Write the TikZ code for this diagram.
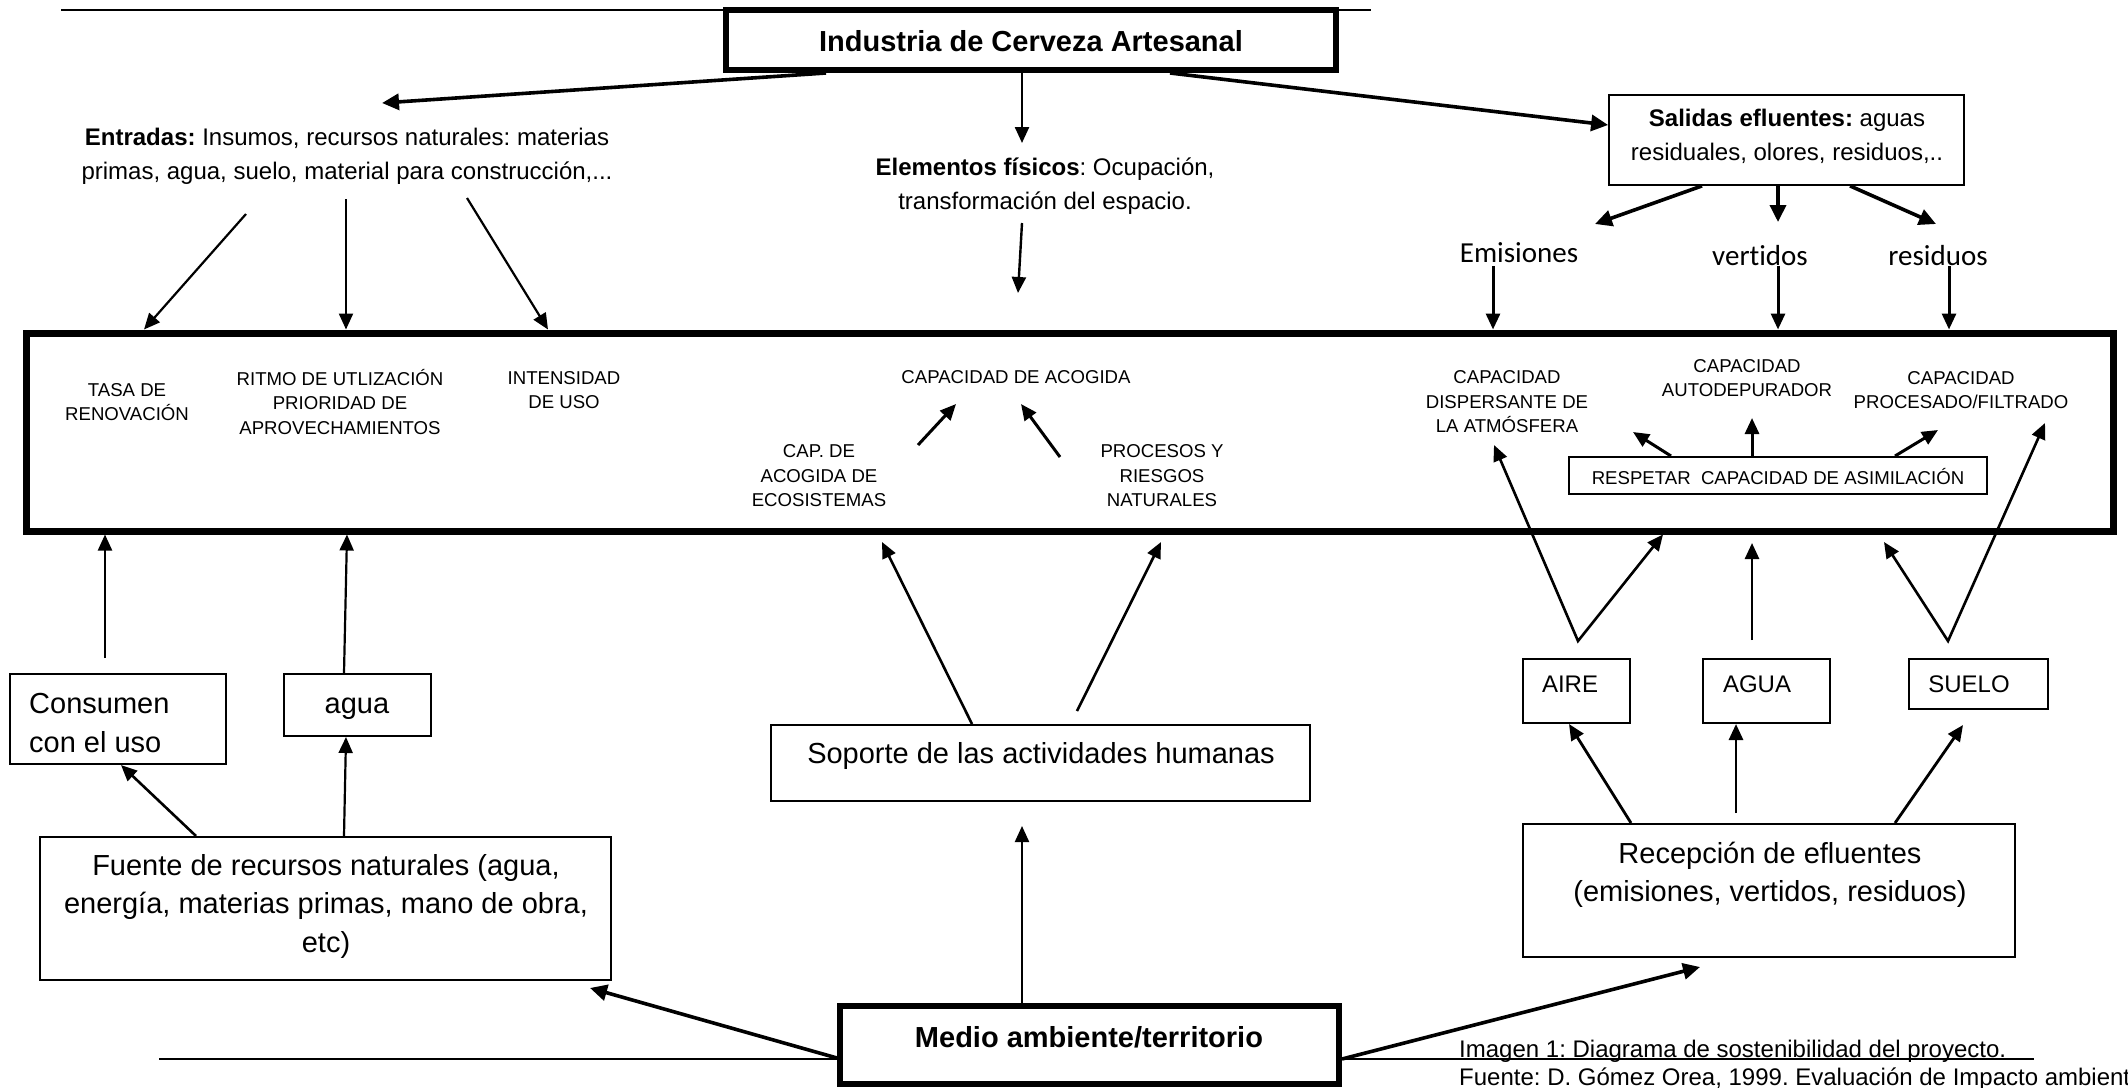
\documentclass[tikz,border=0pt]{standalone}
\usepackage{fontspec}
\setmainfont{Liberation Sans}
\newfontfamily\calib[Ligatures=NoCommon]{Carlito}
\usetikzlibrary{arrows.meta}
\frenchspacing

\begin{document}
\begin{tikzpicture}[x=1pt,y=-1pt,
  every node/.style={inner sep=0pt},
  fbig/.style={font=\fontsize{29}{38.5}\selectfont},
  fmid/.style={font=\fontsize{24}{34}\selectfont},
  fcap/.style={font=\fontsize{24}{28}\selectfont},
  fsml/.style={font=\fontsize{18.6}{24.5}\selectfont},
  fcal/.style={font=\calib\fontsize{29}{35}\selectfont},
  bx/.style={draw, line width=2.2pt, fill=white},
  heavybox/.style={draw, line width=6pt, fill=white},
  arr/.style={-{Triangle[length=16pt,width=14pt]}, line width=2.4pt},
  arrb/.style={-{Triangle[length=17pt,width=16pt]}, line width=3.6pt},
  dbl/.style={{Triangle[length=16pt,width=14pt]}-{Triangle[length=16pt,width=14pt]}, line width=2.6pt},
]
\useasboundingbox (0,0) rectangle (2128,1087);
\fill[white] (0,0) rectangle (2128,1087);

% ---------- rules ----------
\coordinate (topL) at (61,10);
\coordinate (topR) at (1371,10);
\draw[line width=2.5pt] (topL) -- (topR);

% caption (the lower rule runs across it)
\node[fcap, anchor=base west] (cap1) at (1459,1057) {Imagen 1: Diagrama de sostenibilidad del proyecto.};
\node[fcap, anchor=base west] (cap2) at (1459,1085) {Fuente: D. Gómez Orea, 1999. Evaluación de Impacto ambiental};
\coordinate (botL) at (159,1059);
\coordinate (botR) at (2034,1059);
\draw[line width=2.5pt] (botL) -- (botR);

% ---------- boxes ----------
\node[heavybox, minimum width=610pt, minimum height=60pt] (ind) at (1031,40) {};
\node[bx, minimum width=354.6pt, minimum height=89.6pt] (sal) at (1786.5,140) {};
\node[draw, line width=7pt, minimum width=2086.5pt, minimum height=198pt] (big) at (1069.75,432) {};
\node[bx, minimum width=417.8pt, minimum height=36.8pt] (resp) at (1778,475.5) {};
\node[bx, minimum width=215.8pt, minimum height=89.8pt] (con) at (118,719) {};
\node[bx, minimum width=146.8pt, minimum height=61.8pt] (agu) at (357.5,705) {};
\node[bx, minimum width=570.8pt, minimum height=142.8pt] (fue) at (325.5,908.5) {};
\node[bx, minimum width=538.8pt, minimum height=75.8pt] (sop) at (1040.5,763) {};
\node[bx, minimum width=491.8pt, minimum height=132.8pt] (rec) at (1769,890.5) {};
\node[bx, minimum width=106.8pt, minimum height=63.8pt] (aire) at (1576.5,691) {};
\node[bx, minimum width=126.8pt, minimum height=63.8pt] (agua) at (1766.5,691) {};
\node[bx, minimum width=138.8pt, minimum height=49.8pt] (suelo) at (1978.5,684) {};
\node[heavybox, minimum width=499pt, minimum height=78pt] (med) at (1089.5,1045) {};

% ---------- texts ----------
\node[fbig] (indT) at (1031,41) {\textbf{Industria de Cerveza Artesanal}};
\node[fmid, align=center] (entT) at (347,156) {\textbf{Entradas:} Insumos, recursos naturales: materias\\primas, agua, suelo, material para construcción,...};
\node[fmid, align=center] (eleT) at (1045,186) {\textbf{Elementos físicos}: Ocupación,\\transformación del espacio.};
\node[fmid, align=center] (salT) at (1787,136) {\textbf{Salidas efluentes:} aguas\\residuales, olores, residuos,..};
\node[fcal, anchor=base] (emiT) at (1519,262) {Emisiones};
\node[fcal, anchor=base] (verT) at (1760,265) {vertidos};
\node[fcal, anchor=base] (resT) at (1938,265) {residuos};

\node[fsml, align=center] (tasaT) at (127,402) {TASA DE\\RENOVACIÓN};
\node[fsml, align=center] (ritT) at (340,402) {RITMO DE UTLIZACIÓN\\PRIORIDAD DE\\APROVECHAMIENTOS};
\node[fsml, align=center] (intT) at (564,390) {INTENSIDAD\\DE USO};
\node[fsml] (acoT) at (1016,377) {CAPACIDAD DE ACOGIDA};
\node[fsml, align=center] (ecoT) at (819,476) {CAP. DE\\ACOGIDA DE\\ECOSISTEMAS};
\node[fsml, align=center] (proT) at (1162,476) {PROCESOS Y\\RIESGOS\\NATURALES};
\node[fsml, align=center] (dispT) at (1507,402) {CAPACIDAD\\DISPERSANTE DE\\LA ATMÓSFERA};
\node[fsml, align=center] (autT) at (1747,378) {CAPACIDAD\\AUTODEPURADOR};
\node[fsml, align=center] (filT) at (1961,390) {CAPACIDAD\\PROCESADO/FILTRADO};
\node[fsml] (respT) at (1778,477) {RESPETAR\ \ CAPACIDAD DE ASIMILACIÓN};

\node[fbig, align=left, anchor=west] (conT) at (29,723) {Consumen\\con el uso};
\node[fbig] (aguT) at (357,709) {agua};
\node[fbig, align=center] (fueT) at (326,906) {Fuente de recursos naturales (agua,\\energía, materias primas, mano de obra,\\etc)};
\node[fbig] (sopT) at (1041,756) {Soporte de las actividades humanas};
\node[fbig, align=center] (recT) at (1770,875) {Recepción de efluentes\\(emisiones, vertidos, residuos)};
\node[fmid] (aireT) at (1570,684) {AIRE};
\node[fmid] (aguaT) at (1757,684) {AGUA};
\node[fmid] (sueloT) at (1969,684) {SUELO};
\node[fbig] (medT) at (1089,1037) {\textbf{Medio ambiente/territorio}};

% ---------- free connector ends ----------
\coordinate (entTip) at (382,103);
\coordinate (eleTip) at (1022,143);
\coordinate (e1) at (246,214);
\coordinate (e2) at (346,199);
\coordinate (e3) at (467,198);
\coordinate (el1) at (1022,223);
\coordinate (el2) at (1018,293);
\coordinate (emiTip) at (1595,224);
\coordinate (verTip) at (1778,222);
\coordinate (resTip) at (1936,224);
\coordinate (emiS) at (1493,266);
\coordinate (verS) at (1778,266);
\coordinate (resS) at (1949,266);
\coordinate (ecoS) at (918,445);
\coordinate (ecoE) at (956,404);
\coordinate (proS) at (1060,457);
\coordinate (proE) at (1021,404);
\coordinate (rA) at (1633,432);
\coordinate (rB) at (1752,418);
\coordinate (rC) at (1938,430);
\coordinate (aireL) at (1494,445);
\coordinate (aireV) at (1578,641);
\coordinate (aguaS) at (1752,640);
\coordinate (aguaE) at (1752,543);
\coordinate (sueloL) at (1884,542);
\coordinate (sueloV) at (1948,641);
\coordinate (sueloR) at (2045,423);
\coordinate (recB) at (1736,813);
\coordinate (recC) at (1963,725);
\coordinate (conS) at (105,658);
\coordinate (sopL) at (882,542);
\coordinate (sopRS) at (1077,711);
\coordinate (sopR) at (1161,542);
\coordinate (medTip) at (1022,826);
\coordinate (fueTip) at (590,988);
\coordinate (recTip) at (1700,967);

% ---------- connectors ----------
\draw[arrb] (ind.south -| 826,0) -- (entTip);
\draw[arr] (ind.south -| 1022,0) -- (eleTip);
\draw[arrb] (ind.south -| 1170,0) -- (sal.west |- 0,125);

\draw[arr, line width=2.2pt] (e1) -- (big.north -| 144,0);
\draw[arr, line width=2.2pt] (e2) -- (big.north -| 346,0);
\draw[arr, line width=2.2pt] (e3) -- (big.north -| 548,0);
\draw[arr] (el1) -- (el2);

\draw[arrb] (sal.south -| 1702,0) -- (emiTip);
\draw[arrb] (sal.south -| 1778,0) -- (verTip);
\draw[arrb] (sal.south -| 1850,0) -- (resTip);
\draw[arr, line width=3pt] (emiS) -- (big.north -| 1493,0);
\draw[arr, line width=3pt] (verS) -- (big.north -| 1778,0);
\draw[arr, line width=3pt] (resS) -- (big.north -| 1949,0);

\draw[arr, line width=3pt] (ecoS) -- (ecoE);
\draw[arr, line width=3pt] (proS) -- (proE);
\draw[arr, line width=3pt] (resp.north -| 1671,0) -- (rA);
\draw[arr, line width=3pt] (resp.north -| 1752,0) -- (rB);
\draw[arr, line width=3pt] (resp.north -| 1895,0) -- (rC);

\draw[dbl] (aireL) -- (aireV) -- (big.south -| 1663,0);
\draw[arr, line width=2.6pt] (aguaS) -- (aguaE);
\draw[dbl] (sueloL) -- (sueloV) -- (sueloR);

\draw[arr, line width=2.8pt] (rec.north -| 1631,0) -- (aire.south -| 1569,0);
\draw[arr, line width=2.8pt] (recB) -- (agua.south -| 1736,0);
\draw[arr, line width=2.8pt] (rec.north -| 1895,0) -- (recC);

\draw[arr, line width=2.2pt] (conS) -- (big.south -| 105,0);
\draw[arr, line width=2.2pt] (agu.north -| 344,0) -- (big.south -| 347,0);
\draw[arr, line width=2.6pt] (fue.north -| 196,0) -- (con.south -| 121,0);
\draw[arr, line width=2.2pt] (fue.north -| 344,0) -- (agu.south -| 346,0);

\draw[arr, line width=2.6pt] (sop.north -| 972,0) -- (sopL);
\draw[arr, line width=2.6pt] (sopRS) -- (sopR);
\draw[arr, line width=2.2pt] (med.north -| 1022,0) -- (medTip);
\draw[arrb] (med.west |- 0,1058) -- (fueTip);
\draw[arrb] (med.east |- 0,1059) -- (recTip);
\end{tikzpicture}
\end{document}
